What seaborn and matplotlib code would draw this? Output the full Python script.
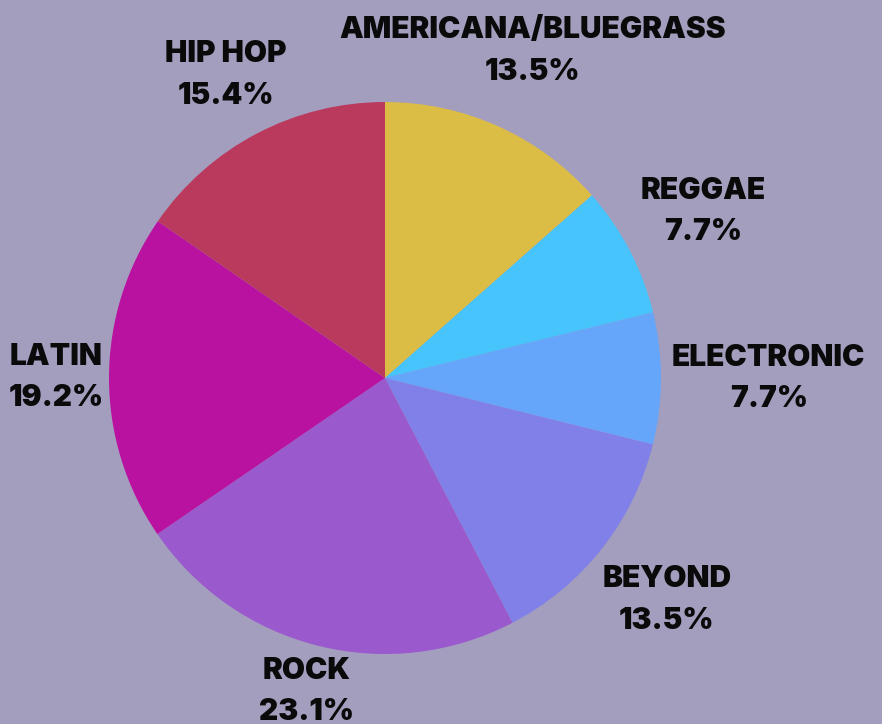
import matplotlib.pyplot as plt
import numpy as np
import seaborn as sns

genres = ["AMERICANA/BLUEGRASS", "REGGAE", "ELECTRONIC", "BEYOND", "ROCK", "LATIN", "HIP HOP"]
shares = [13.5, 7.7, 7.7, 13.5, 23.1, 19.2, 15.4]
colors = ["#DBBD45", "#47C4FB", "#66A6FA", "#8080E8", "#9A5ACD", "#BA12A0", "#BA3A5E"]
# how far each label sits from the centre, in pie radii
label_dist = [1.30, 1.30, 1.39, 1.30, 1.17, 1.19, 1.24]

BG = "#A49EBE"

sns.set_style("white")
plt.rcParams["font.family"] = ["Inter", "DejaVu Sans"]

fig = plt.figure(figsize=(8.82, 7.24), dpi=100, facecolor=BG)
W, H = 882, 724
cx, cy, r = 385, 378, 276
ax = fig.add_axes([(cx - r) / W, (H - cy - r) / H, 2 * r / W, 2 * r / H])
ax.set_facecolor(BG)

wedges, _ = ax.pie(shares, colors=colors, startangle=90, counterclock=False,
                   radius=1, wedgeprops={"linewidth": 0})
ax.set_xlim(-1, 1)
ax.set_ylim(-1, 1)
ax.set_aspect("equal")
ax.axis("off")

for w, name, val, d in zip(wedges, genres, shares, label_dist):
    ang = np.deg2rad((w.theta1 + w.theta2) / 2)
    ax.text(d * np.cos(ang), d * np.sin(ang), f"{name}\n{val:.1f}%",
            ha="center", va="center", fontsize=21.5, fontweight=900,
            linespacing=1.6, color="#0a0a0a", clip_on=False)

fig.savefig("out.png", dpi=100, facecolor=BG)
